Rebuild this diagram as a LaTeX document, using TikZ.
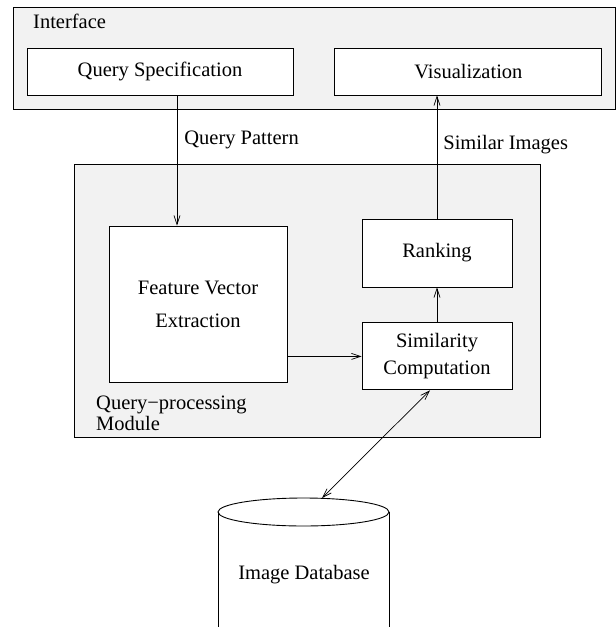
\documentclass[tikz,border=0pt]{standalone}
\usepackage{fontspec}
\setmainfont{Liberation Serif}
\usetikzlibrary{arrows.meta, positioning}
\definecolor{panel}{HTML}{F2F2F2}

\begin{document}
\begin{tikzpicture}[
  x=1pt, y=-1pt,
  every node/.style={font=\fontsize{20.5}{24}\selectfont},
  frame/.style={rectangle, draw, fill=panel, line width=0.9pt, inner sep=0pt},
  block/.style={rectangle, draw, fill=white, line width=0.9pt, align=center, inner sep=0pt},
  tag/.style={inner sep=0pt},
  line/.style={-{Straight Barb[length=9pt, width=6pt]}, line width=0.7pt},
  dline/.style={{Straight Barb[length=9pt, width=6pt]}-{Straight Barb[length=9pt, width=6pt]}, line width=0.7pt}
]
\useasboundingbox (0,0) rectangle (616,627);

% interface
\node[frame, minimum width=602pt, minimum height=102pt] (iface) at (314,58) {};
\node[tag, anchor=base west] (ifacelabel) at (33,28) {Interface};
\node[block, minimum width=266pt, minimum height=47pt] (qspec) at (160,71.5) {Query Specification};
\node[block, minimum width=267pt, minimum height=47pt, right=41pt of qspec] (vis) {Visualization};

% query-processing module
\node[frame, minimum width=466pt, minimum height=273pt] (qpm) at (307,300.5) {};
\node[tag, anchor=south west, align=left, font=\fontsize{20.5}{21}\selectfont] (qpmlabel) at (96,431) {Query−processing\\Module};
\node[block, minimum width=178pt, minimum height=156pt, font=\fontsize{20.5}{33}\selectfont] (feat) at (198,304) {Feature Vector\\Extraction};
\node[block, minimum width=150pt, minimum height=68pt] (rank) at (437,253) {Ranking};
\node[block, minimum width=150pt, minimum height=67pt, below=35pt of rank, font=\fontsize{20.5}{27}\selectfont] (simil) {Similarity\\Computation};

% database
\draw[line width=0.9pt] (303.5,512) ellipse [x radius=85.5, y radius=14];
\draw[line width=0.9pt] (218,512) -- (218,630) (389,512) -- (389,630);
\coordinate (dbtop) at (322,498);
\node (db) at (304,575) {Image Database};

\draw[line] ([xshift=17pt]qspec.south) -- ([xshift=17pt]qspec.south |- feat.north)
  node[tag, pos=0.374, anchor=base west, xshift=7pt] (qpat) {Query Pattern};
\draw[line] (feat.east |- simil.west) -- (simil.west);
\draw[line] (simil.north) -- (rank.south);
\draw[line] (rank.north) -- (rank.north |- vis.south)
  node[tag, pos=0.565, anchor=base west, xshift=6pt] (simimg) {Similar Images};
\draw[dline] ([xshift=-7pt]simil.south) -- (dbtop);

\end{tikzpicture}
\end{document}
